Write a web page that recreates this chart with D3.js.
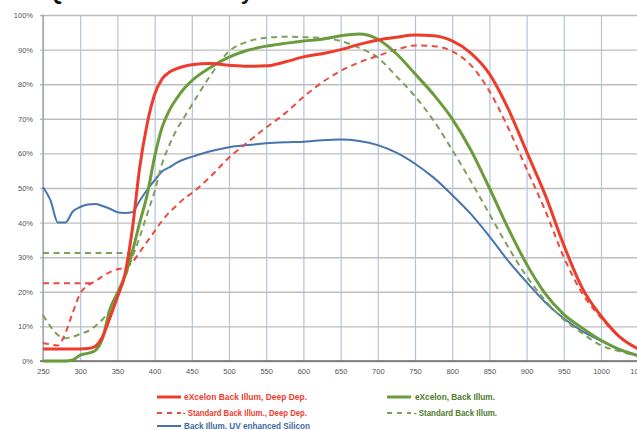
<!DOCTYPE html>
<html>
<head>
<meta charset="utf-8">
<script src="https://cdn.jsdelivr.net/npm/d3@7"></script>
<style>
  html, body { margin: 0; padding: 0; background: #fff; }
  svg { display: block; }
</style>
</head>
<body>
<svg id="chart" width="637" height="430"></svg>
<script>
// ---------------- DATA ----------------
const wavelengths = [250,260,270,280,290,300,310,320,330,340,350,360,370,380,390,400,410,420,430,440,450,475,500,525,550,575,600,625,650,675,700,725,750,775,800,825,850,875,900,925,950,975,1000,1025,1050];

const eXcelonDeepDep = [3.5,3.5,3.5,3.5,3.5,3.5,3.6,4.2,7,12.5,18.5,25,38,56,68.5,77,81.5,83.5,84.5,85.2,85.6,86,85.5,85.2,85.3,86.4,87.9,88.8,90,91.5,92.8,93.6,94.2,94,92.5,89,83,73,60.5,48,33.5,21,13,7,3.5];

const standardDeepDep = [5.2,4.8,4.5,8,14,19.5,21.8,23,24.5,25.7,26.5,27,28.5,31.5,34.5,37.5,40.5,43,45,47,48.5,53.3,58.8,63.2,67.5,71.5,76.3,80.5,83.8,86.3,88.2,90,91.2,91,89.5,85.5,78,67.5,55.5,43.5,30,19.5,12.5,7,3.5];

const eXcelonBack = [0,0,0,0,0.3,1.7,2.2,3,6.5,15,19.6,24.5,31.5,40,48,59,67.5,72.5,76,78.8,81,84.8,87.8,89.8,91,91.8,92.5,93,94,94.5,93,88.8,83,77,70,61,50,38.5,28,19.5,13.5,9.5,6,3.3,1.5];

const standardBack = [13.3,10,7.5,6.6,7,7.8,8.6,10,12,14.7,18.5,24,30,35.8,42.5,49,57,62.5,67,70.5,74,82.5,89.5,92.3,93.4,93.7,93.6,93.4,92.5,90.5,87.7,82.3,76.5,69.5,61,52,42.5,33,24.5,17.5,12,8,4.5,2.8,1.5];

const uvEnhanced = [50.3,46.5,40,40,43.2,44.5,45.2,45.4,44.8,44,43,42.8,43,46.3,49.5,52.2,54.8,56,57.3,58.3,59,60.6,61.8,62.4,62.9,63.2,63.4,63.8,64,63.6,62.4,60.2,57,53,48,42.5,36,29,22.8,17,12.3,8.6,5.8,3.4,1.6];

// short flat stubs of the dashed series at the UV end
const standardDeepDepStubX = [250, 316];
const standardDeepDepStubY = [22.5, 22.5];
const standardBackStubX = [250, 371];
const standardBackStubY = [31.2, 31.2];

const xTicks = [250,300,350,400,450,500,550,600,650,700,750,800,850,900,950,1000,1050];
const yTicks = [0,10,20,30,40,50,60,70,80,90,100];

const seriesNames = ["eXcelon Back Illum, Deep Dep.", "- Standard Back Illum., Deep Dep.", "eXcelon, Back Illum.", "- Standard Back Illum.", "Back Illum. UV enhanced Silicon"];

// ---------------- LAYOUT ----------------
const svg = d3.select("#chart");
const mLeft = 43, mRight = 638.2, mTop = 15, mBottom = 361;

const x = d3.scaleLinear().domain([250, 1050]).range([mLeft, mRight]);
const y = d3.scaleLinear().domain([0, 100]).range([mBottom, mTop]);

// partially visible title (cut off at top)
svg.append("text")
  .attr("x", 253).attr("y", -1.5)
  .attr("text-anchor", "end")
  .attr("font-family", "Liberation Sans, Arial, sans-serif")
  .attr("font-weight", "bold")
  .attr("font-size", 22)
  .attr("fill", "#111")
  .text("Quantum Efficiency");

// horizontal grid + y labels
const yAxis = d3.axisLeft(y)
  .tickValues(yTicks)
  .tickFormat(d => d + "%")
  .tickSizeInner(-(mRight - mLeft))
  .tickSizeOuter(0)
  .tickPadding(10);
const gy = svg.append("g").attr("transform", `translate(${mLeft},0)`).call(yAxis);
gy.select(".domain").remove();
gy.selectAll(".tick line")
  .attr("x1", -3)
  .attr("stroke", "#bdbdbd")
  .attr("stroke-width", 1.4);
gy.selectAll(".tick text")
  .attr("font-family", "Liberation Sans, Arial, sans-serif")
  .attr("font-size", 7.5)
  .attr("fill", "#555");

// vertical grid + x labels
const xAxis = d3.axisBottom(x)
  .tickValues(xTicks)
  .tickFormat(d => d)
  .tickSizeInner(-(mBottom - mTop))
  .tickSizeOuter(0)
  .tickPadding(8);
const gx = svg.append("g").attr("transform", `translate(0,${mBottom})`).call(xAxis);
gx.select(".domain").remove();
gx.selectAll(".tick line")
  .attr("stroke", "#b3c1de")
  .attr("stroke-width", 1.2);
gx.selectAll(".tick text")
  .attr("font-family", "Liberation Sans, Arial, sans-serif")
  .attr("font-size", 7.5)
  .attr("fill", "#555");

// axis lines
svg.append("line").attr("x1", mLeft).attr("x2", mLeft).attr("y1", mTop).attr("y2", mBottom)
  .attr("stroke", "#9a9a9a").attr("stroke-width", 1.2);
svg.append("line").attr("x1", mLeft - 3).attr("x2", mRight).attr("y1", mBottom).attr("y2", mBottom)
  .attr("stroke", "#6a6a6a").attr("stroke-width", 1.6);

// ---------------- SERIES ----------------
const styles = [
  { color: "#ee3b2b", width: 3, dash: null, text: "#ee3b2b" },
  { color: "#ec4a3e", width: 2, dash: "6,4.5", text: "#ee3b2b" },
  { color: "#6a9c3c", width: 3, dash: null, text: "#4f7a2a" },
  { color: "#7ea05a", width: 2, dash: "6,4.5", text: "#4f7a2a" },
  { color: "#4675ad", width: 2, dash: null, text: "#3f6aa0" }
];

const line = d3.line()
  .x(d => x(d[0]))
  .y(d => y(d[1]))
  .curve(d3.curveMonotoneX);

function draw(xs, ys, st) {
  svg.append("path")
    .datum(xs.map((v, i) => [v, ys[i]]))
    .attr("d", line)
    .attr("fill", "none")
    .attr("stroke", st.color)
    .attr("stroke-width", st.width)
    .attr("stroke-dasharray", st.dash)
    .attr("stroke-linejoin", "round");
}

draw(wavelengths, uvEnhanced, styles[4]);
draw(standardBackStubX, standardBackStubY, styles[3]);
draw(wavelengths, standardBack, styles[3]);
draw(standardDeepDepStubX, standardDeepDepStubY, styles[1]);
draw(wavelengths, standardDeepDep, styles[1]);
draw(wavelengths, eXcelonBack, styles[2]);
draw(wavelengths, eXcelonDeepDep, styles[0]);

// ---------------- LEGEND ----------------
const legendPos = [
  { lx: 157, ly: 397, tx: 184, tw: 123 },
  { lx: 157, ly: 413, tx: 183, tw: 124 },
  { lx: 387, ly: 397, tx: 415, tw: 80 },
  { lx: 387, ly: 413, tx: 414, tw: 83 },
  { lx: 157, ly: 426, tx: 184, tw: 126 }
];
seriesNames.forEach((name, i) => {
  const p = legendPos[i], st = styles[i];
  svg.append("line")
    .attr("x1", p.lx).attr("x2", p.lx + 24)
    .attr("y1", p.ly).attr("y2", p.ly)
    .attr("stroke", st.color)
    .attr("stroke-width", st.dash ? 2 : (i === 4 ? 2 : 3))
    .attr("stroke-dasharray", st.dash ? "5,5" : null);
  svg.append("text")
    .attr("x", p.tx).attr("y", p.ly + 3)
    .attr("font-family", "Liberation Sans, Arial, sans-serif")
    .attr("font-weight", "bold")
    .attr("font-size", 8.5)
    .attr("textLength", p.tw)
    .attr("lengthAdjust", "spacingAndGlyphs")
    .attr("fill", st.text)
    .text(name);
});
</script>
</body>
</html>
